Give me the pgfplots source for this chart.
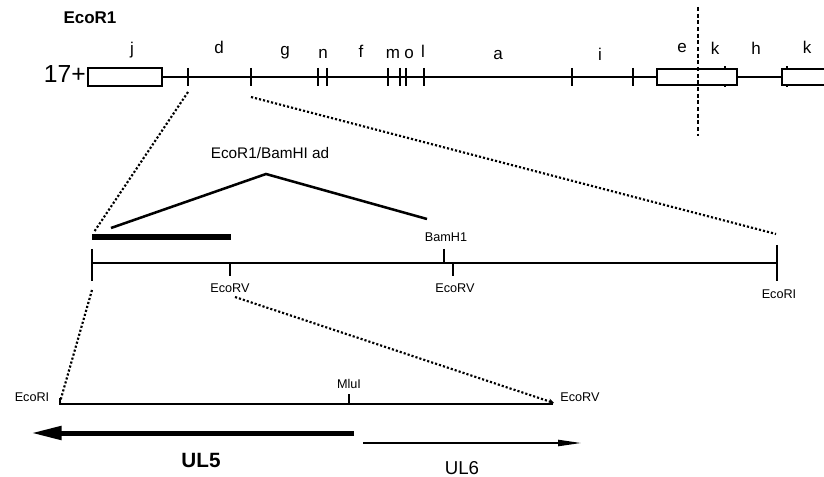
\documentclass[border=0pt]{standalone}
\usepackage{fontspec}
\setmainfont{Liberation Sans}
\usepackage{pgfplots}
\pgfplotsset{compat=1.18}
\usetikzlibrary{arrows.meta}

% sizes are given in px of a 824 x 477 canvas, 1px = 0.75pt
\newcommand{\fs}[1]{\fontsize{#1pt}{#1pt}\selectfont}

\tikzset{
  map/.style={black, line width=1.7pt, line join=miter},
  site/.style={black, line width=1.7pt},
  dots/.style={black, line width=1.6pt, dash pattern=on 1.6pt off 1.5pt},
  lab/.style={font=\fs{12.75}, anchor=base},
  small/.style={font=\fs{9.5}, anchor=base},
}

\begin{document}
\begin{tikzpicture}
\begin{axis}[
  scale only axis, width=618pt, height=357.75pt,
  xmin=0, xmax=824, ymin=0, ymax=477, y dir=reverse,
  hide axis, clip=false, unbounded coords=jump,
  every axis plot/.append style={no markers},
]

% ---------------- EcoRI map of the genome ----------------
\addplot[map] coordinates {(162,77) (657,77)};
\addplot[map] coordinates {(737,77) (782,77)};
\addplot[map, fill=white] coordinates {(88,68) (162,68) (162,86) (88,86)} -- cycle;
\addplot[map, fill=white] coordinates {(657,69) (737,69) (737,85) (657,85)} -- cycle;
\addplot[map] coordinates {(824,69) (782,69) (782,85) (824,85)};
% restriction sites
\addplot[site] coordinates {
  (188,68) (188,86) (nan,nan)
  (251,68) (251,86) (nan,nan)
  (318,68) (318,86) (nan,nan)
  (327,68) (327,86) (nan,nan)
  (388,68) (388,86) (nan,nan)
  (400,68) (400,86) (nan,nan)
  (406,68) (406,86) (nan,nan)
  (424,68) (424,86) (nan,nan)
  (572,68) (572,86) (nan,nan)
  (633,68) (633,86)};
% sites inside the repeat boxes
\addplot[site, line width=1.3pt] coordinates {
  (725,66.5) (725,69) (nan,nan) (725,85) (725,87.5) (nan,nan)
  (787,66.5) (787,69) (nan,nan) (787,85) (787,87.5)};
% border of the unique long region
\addplot[black, line width=1.6pt, dash pattern=on 3pt off 2pt] coordinates {(698,7) (698,136)};

\node[font=\bfseries\fs{12.75}, anchor=base] at (axis cs:90,24) {EcoR1};
\node[font=\fs{18.5}, anchor=base east, inner sep=0pt] at (axis cs:86,83) {17+};
\node[lab] at (axis cs:132,55) {j};
\node[lab] at (axis cs:219,54) {d};
\node[lab] at (axis cs:285,56) {g};
\node[lab] at (axis cs:323,59) {n};
\node[lab] at (axis cs:361,58) {f};
\node[lab] at (axis cs:393,59) {m};
\node[lab] at (axis cs:409,59) {o};
\node[lab] at (axis cs:423,58) {l};
\node[lab] at (axis cs:498,60) {a};
\node[lab] at (axis cs:600,61) {i};
\node[lab] at (axis cs:682,53) {e};
\node[lab] at (axis cs:715,55) {k};
\node[lab] at (axis cs:756,55) {h};
\node[lab] at (axis cs:807,54) {k};

% expansion of fragment d
\addplot[dots] coordinates {(188,92) (94,232)};
\addplot[dots] coordinates {(251,97) (776,234)};

% ---------------- fragment d ----------------
\addplot[map] coordinates {(92,263) (777,263)};
\addplot[site] coordinates {
  (92,249) (92,281) (nan,nan)
  (777,245) (777,281) (nan,nan)
  (230,263) (230,276) (nan,nan)
  (453,263) (453,276) (nan,nan)
  (444,249) (444,263)};
\addplot[black, line width=4.5pt] coordinates {(92,237) (231,237)};
\addplot[black, line width=1.9pt] coordinates {(111,228) (266,174) (427,219)};

\node[font=\fs{11.5}, anchor=base] at (axis cs:270,159) {EcoR1/BamHI ad};
\node[small] at (axis cs:446,242) {BamH1};
\node[small] at (axis cs:230,292) {EcoRV};
\node[small] at (axis cs:455,292) {EcoRV};
\node[small] at (axis cs:779,298) {EcoRI};

% expansion of the EcoRI-EcoRV piece
\addplot[dots] coordinates {(92,290) (60,402)};
\addplot[dots, -{Stealth[length=4pt, width=4pt]}] coordinates {(235,297) (554,403)};

% ---------------- EcoRI-EcoRV piece ----------------
\addplot[map] coordinates {(60,404) (553,404)};
\addplot[site] coordinates {(60,398) (60,405) (nan,nan) (349,394) (349,404)};
\node[small] at (axis cs:32,401) {EcoRI};
\node[small] at (axis cs:349,388) {MluI};
\node[small] at (axis cs:580,401) {EcoRV};

% transcripts
\addplot[black, line width=3.75pt, -{Triangle[length=23pt, width=9.8pt]}] coordinates {(354,433) (31,433)};
\addplot[black, line width=1.7pt, -{Triangle[length=18pt, width=4.5pt]}] coordinates {(363,443) (582,443)};
\node[font=\bfseries\fs{15.5}, anchor=base] at (axis cs:201,467) {UL5};
\node[font=\fs{14}, anchor=base] at (axis cs:462,474) {UL6};

\end{axis}
\pgfresetboundingbox
\path[use as bounding box] (current axis.south west) rectangle (current axis.north east);
\end{tikzpicture}
\end{document}
